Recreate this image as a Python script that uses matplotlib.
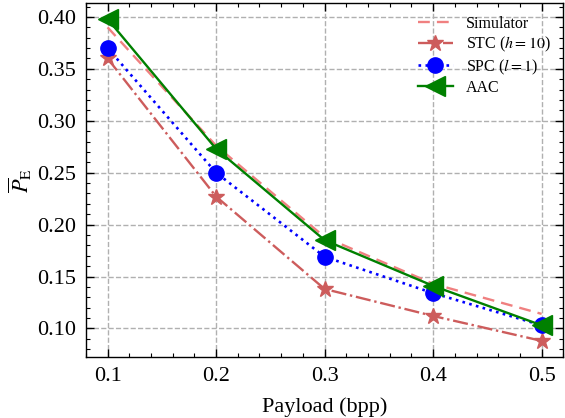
import matplotlib
matplotlib.use('Agg')
from matplotlib import pyplot as plt
from matplotlib.ticker import AutoMinorLocator

payload = [0.1, 0.2, 0.3, 0.4, 0.5]
simulator = [0.390, 0.276, 0.188, 0.143, 0.114]
stc = [0.360, 0.227, 0.138, 0.112, 0.088]
spc = [0.370, 0.250, 0.169, 0.134, 0.103]
aac = [0.398, 0.273, 0.185, 0.141, 0.103]


def main():
    plt.rcParams['font.family'] = ['Liberation Serif', 'DejaVu Serif']
    plt.rcParams['mathtext.fontset'] = 'stix'
    plt.rcParams['font.size'] = 16

    fig = plt.figure(figsize=(5.65, 4.18), dpi=100)
    ax = fig.add_axes([0.152, 0.146, 0.845, 0.847])

    ax.plot(payload, simulator, linestyle=(0, (5, 3)), color='#F08080',
            linewidth=1.7, label='Simulator')
    ax.plot(payload, stc, linestyle='-.', color='#CD5C5C', linewidth=1.7,
            marker='*', markersize=12, label=r'STC ($h=10$)')
    ax.plot(payload, spc, linestyle=':', color='blue', linewidth=1.9,
            marker='o', markersize=11, label=r'SPC ($l=1$)')
    ax.plot(payload, aac, linestyle='-', color='green', linewidth=1.7,
            marker='<', markersize=14, label='AAC')

    ax.set_xticks(payload)
    ax.set_yticks([0.10, 0.15, 0.20, 0.25, 0.30, 0.35, 0.40])
    ax.xaxis.set_minor_locator(AutoMinorLocator(5))
    ax.yaxis.set_minor_locator(AutoMinorLocator(5))
    ax.tick_params(which='both', direction='in', top=True, right=True)
    ax.tick_params(which='major', length=6, width=1, pad=7)
    ax.tick_params(which='minor', length=3, width=0.8)
    for s in ax.spines.values():
        s.set_linewidth(1.0)

    ax.grid(True, linestyle='--', color='#b0b0b0', linewidth=1)
    ax.set_xlabel('Payload (bpp)', labelpad=8)
    ax.set_ylabel(r'$\overline{P}_{\rm E}$', labelpad=2)
    ax.legend(loc='upper right', frameon=False, fontsize=11.5,
              handlelength=2.2, labelspacing=0.2, borderaxespad=0.4)

    plt.savefig('out.png', dpi=100)


if __name__ == '__main__':
    main()
